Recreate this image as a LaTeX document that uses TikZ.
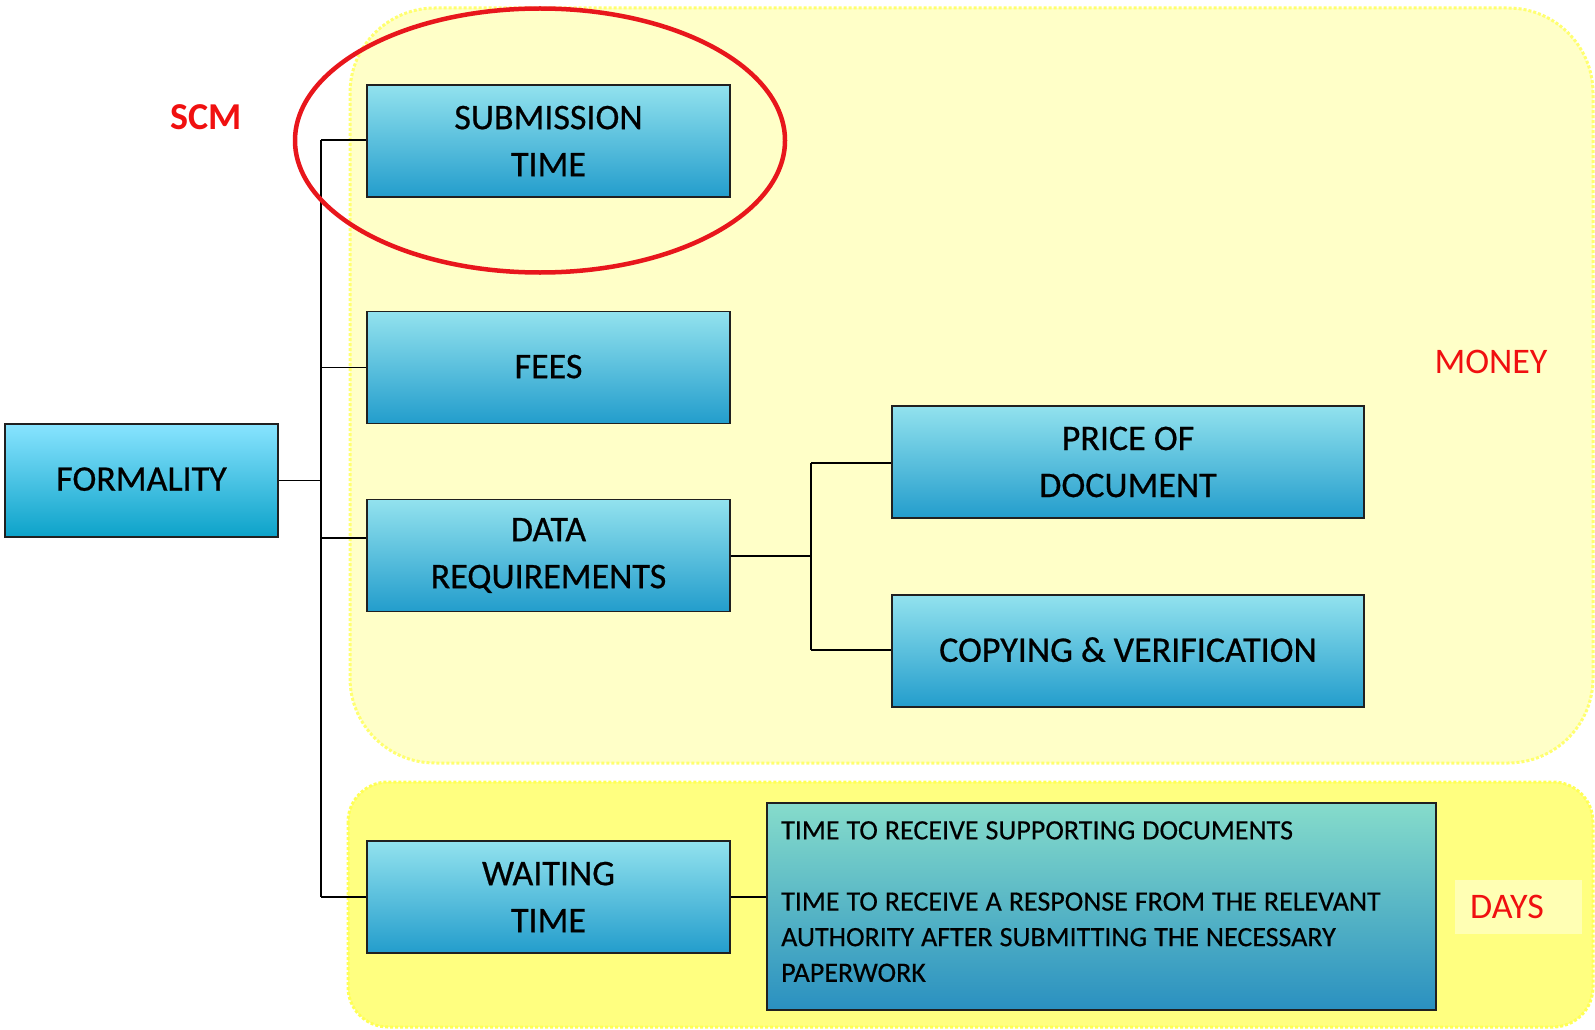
\documentclass[tikz,border=0pt]{standalone}
\usepackage{fontspec}
\setmainfont{Carlito}
\newfontfamily\boxfont[FakeBold=0.6]{Carlito}
\newfontfamily\smallfont[FakeBold=0.4]{Carlito}
\definecolor{boxtop}{HTML}{92E2EE}
\definecolor{boxbot}{HTML}{239DCC}
\definecolor{formtop}{HTML}{88E4FF}
\definecolor{formbot}{HTML}{0CA2C9}
\definecolor{txttop}{HTML}{86DCCB}
\definecolor{txtbot}{HTML}{2A90C0}
\definecolor{paleyel}{HTML}{FFFFC8}
\definecolor{paledot}{HTML}{FFFF70}
\definecolor{brightyel}{HTML}{FFFF80}
\definecolor{brightdot}{HTML}{FFFF55}
\definecolor{daysbg}{HTML}{FFFFB4}
\definecolor{lblred}{HTML}{F01010}
\definecolor{ellred}{HTML}{E8161C}
\definecolor{edge}{HTML}{202020}
\tikzset{
  cbox/.style={draw=edge, line width=1.6pt, top color=boxtop, bottom color=boxbot,
    minimum width=363pt, minimum height=112pt, inner sep=0pt, align=center,
    font=\boxfont\fontsize{36}{47}\selectfont},
  wbox/.style={cbox, minimum width=472pt},
  conn/.style={draw=black, line width=1.8pt},
  redlbl/.style={text=lblred, font=\fontsize{36}{40}\selectfont, inner sep=0pt},
}
\begin{document}
\begin{tikzpicture}[x=1pt,y=-1pt]
\useasboundingbox (0,0) rectangle (1595,1030);
% background regions
\path[fill=paleyel, draw=paledot, line width=3pt, dotted, rounded corners=85pt]
  (350,8) rectangle (1593,763);
\path[fill=brightyel, draw=brightdot, line width=3pt, dotted, rounded corners=40pt]
  (348,782) rectangle (1593,1027);
\node[fill=daysbg, minimum width=127pt, minimum height=54pt, inner sep=0pt] (daysbg) at (1518,907) {};

% boxes
\node[cbox, top color=formtop, bottom color=formbot, minimum width=273pt, minimum height=113pt] (form) at (141.5,480.5) {\raisebox{3pt}{FORMALITY}};
\node[cbox] (sub) at (548.5,141) {SUBMISSION\\TIME};
\node[cbox] (fees) at (548.5,367.5) {\raisebox{2pt}{FEES}};
\node[cbox] (data) at (548.5,555.5) {DATA\\REQUIREMENTS};
\node[cbox] (wait) at (548.5,897) {WAITING\\TIME};
\node[wbox] (price) at (1128,462) {PRICE OF\\DOCUMENT};
\node[wbox] (copy) at (1128,651) {\raisebox{3pt}{COPYING \& VERIFICATION}};
\node[draw=edge, line width=1.6pt, top color=txttop, bottom color=txtbot,
  minimum width=669pt, minimum height=207pt, inner sep=0pt] (txt) at (1101.5,906.5) {};
\node[anchor=north west, inner sep=0pt, align=left, text width=640pt,
  font=\smallfont\fontsize{28}{35.6}\selectfont] (txtlbl) at (781,821)
  {\spaceskip=7pt\relax TIME TO RECEIVE SUPPORTING DOCUMENTS\\[35.6pt]
   TIME TO RECEIVE A RESPONSE FROM THE RELEVANT\\
   AUTHORITY AFTER SUBMITTING THE NECESSARY\\
   PAPERWORK};

% connectors
\coordinate (trunkTop) at (321,140);
\coordinate (trunkBot) at (321,897);
\coordinate (trunkForm) at (321,480.5);
\coordinate (trunkData) at (321,538);
\coordinate (trunkFees) at (321,367.5);
\draw[conn] (trunkTop) -- (trunkBot);
\draw[conn] (form.east) -- (trunkForm);
\draw[conn] (trunkTop) -- (sub.west|-trunkTop);
\draw[conn] (trunkFees) -- (fees.west);
\draw[conn] (trunkData) -- (data.west|-trunkData);
\draw[conn] (trunkBot) -- (wait.west|-trunkBot);
\coordinate (subTrunk) at (811,556);
\draw[conn] (data.east|-subTrunk) -- (subTrunk);
\coordinate (subTop) at (811,463);
\coordinate (subBot) at (811,650);
\draw[conn] (subTop) -- (subBot);
\draw[conn] (subTop) -- (price.west|-subTop);
\draw[conn] (subBot) -- (copy.west|-subBot);
\draw[conn] (wait.east|-trunkBot) -- (txt.west|-trunkBot);

% labels
\node[redlbl, font=\bfseries\fontsize{38}{40}\selectfont] (scm) at (206,117) {SCM};
\node[redlbl] (money) at (1491,362) {MONEY};
\node[redlbl] (days) at (1507,907) {DAYS};

% ellipse
\draw[ellred, line width=4.5pt] (540,140.5) ellipse [x radius=245pt, y radius=132pt];
\end{tikzpicture}
\end{document}
